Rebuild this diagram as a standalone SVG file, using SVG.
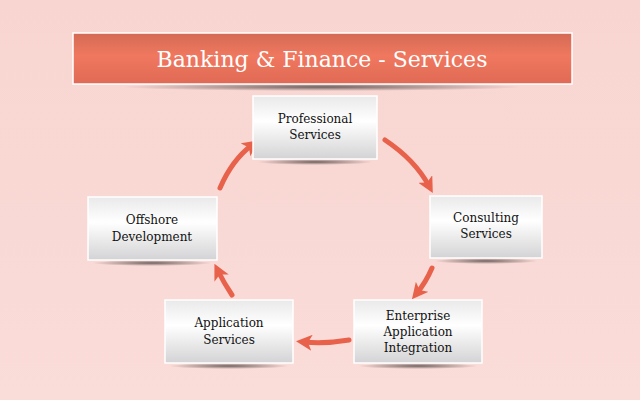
<svg xmlns="http://www.w3.org/2000/svg" width="640" height="400" viewBox="0 0 640 400">
<defs>
<linearGradient id="bg" x1="0" y1="0" x2="0" y2="1"><stop offset="0" stop-color="#f8d5d1"/><stop offset="1" stop-color="#fadcd8"/></linearGradient>
<linearGradient id="tg" x1="0" y1="0" x2="0" y2="1"><stop offset="0" stop-color="#d46a55"/><stop offset="0.45" stop-color="#f0785f"/><stop offset="1" stop-color="#e06a55"/></linearGradient>
<linearGradient id="bx" x1="0" y1="0" x2="0" y2="1"><stop offset="0" stop-color="#e9e9ea"/><stop offset="0.4" stop-color="#ffffff"/><stop offset="1" stop-color="#d3d3d5"/></linearGradient>
<radialGradient id="sh"><stop offset="0" stop-color="#000" stop-opacity="0.55"/><stop offset="1" stop-color="#000" stop-opacity="0"/></radialGradient>
<marker id="ah" viewBox="0 0 10 10" refX="5" refY="5" markerWidth="3.2" markerHeight="3.2" orient="auto" markerUnits="strokeWidth"><path d="M0,0 L10,5 L0,10 L2.5,5 Z" fill="#e8614b"/></marker>
</defs>
<style>
.box{fill:url(#bx);stroke:#fff;stroke-width:1.5}
.t{font-family:"DejaVu Serif","Liberation Serif",serif;font-size:12px;fill:#111;text-anchor:middle}
.c{fill:none;stroke:#e8614b;stroke-width:5;stroke-linecap:round;marker-end:url(#ah)}
.s{fill:url(#sh)}
</style>
<rect width="640" height="400" fill="url(#bg)"/>
<g id="title">
<ellipse class="s" cx="322" cy="87" rx="200" ry="4"/>
<rect x="73" y="33" width="499" height="51" fill="url(#tg)" stroke="#fff" stroke-width="1.5"/>
<text x="322" y="67" font-family="DejaVu Serif, Liberation Serif, serif" font-size="22" fill="#fff" text-anchor="middle">Banking &amp; Finance - Services</text>
</g>
<g id="connectors">
<path class="c" d="M220,188 Q232,160 252,145"/>
<path class="c" d="M385,140 Q415,160 429,186"/>
<path class="c" d="M432,268 Q426,282 417,293"/>
<path class="c" d="M349,340 Q325,344 304,342"/>
<path class="c" d="M232,295 Q224,283 218,271"/>
</g>
<g id="professional"><ellipse class="s" cx="315" cy="162" rx="58" ry="3"/><rect class="box" x="253" y="96" width="124" height="63"/><text class="t" x="315" y="123">Professional</text><text class="t" x="315" y="139">Services</text></g>
<g id="consulting"><ellipse class="s" cx="486" cy="261" rx="52" ry="3"/><rect class="box" x="430" y="196" width="112" height="62"/><text class="t" x="486" y="222">Consulting</text><text class="t" x="486" y="238">Services</text></g>
<g id="enterprise"><ellipse class="s" cx="418" cy="366" rx="60" ry="3"/><rect class="box" x="354" y="300" width="128" height="63"/><text class="t" x="418" y="320">Enterprise</text><text class="t" x="418" y="336">Application</text><text class="t" x="418" y="352">Integration</text></g>
<g id="application"><ellipse class="s" cx="229" cy="366" rx="60" ry="3"/><rect class="box" x="165" y="300" width="128" height="63"/><text class="t" x="229" y="327">Application</text><text class="t" x="229" y="344">Services</text></g>
<g id="offshore"><ellipse class="s" cx="152" cy="263" rx="60" ry="3"/><rect class="box" x="88" y="197" width="129" height="63"/><text class="t" x="152" y="224">Offshore</text><text class="t" x="152" y="241">Development</text></g>
</svg>
